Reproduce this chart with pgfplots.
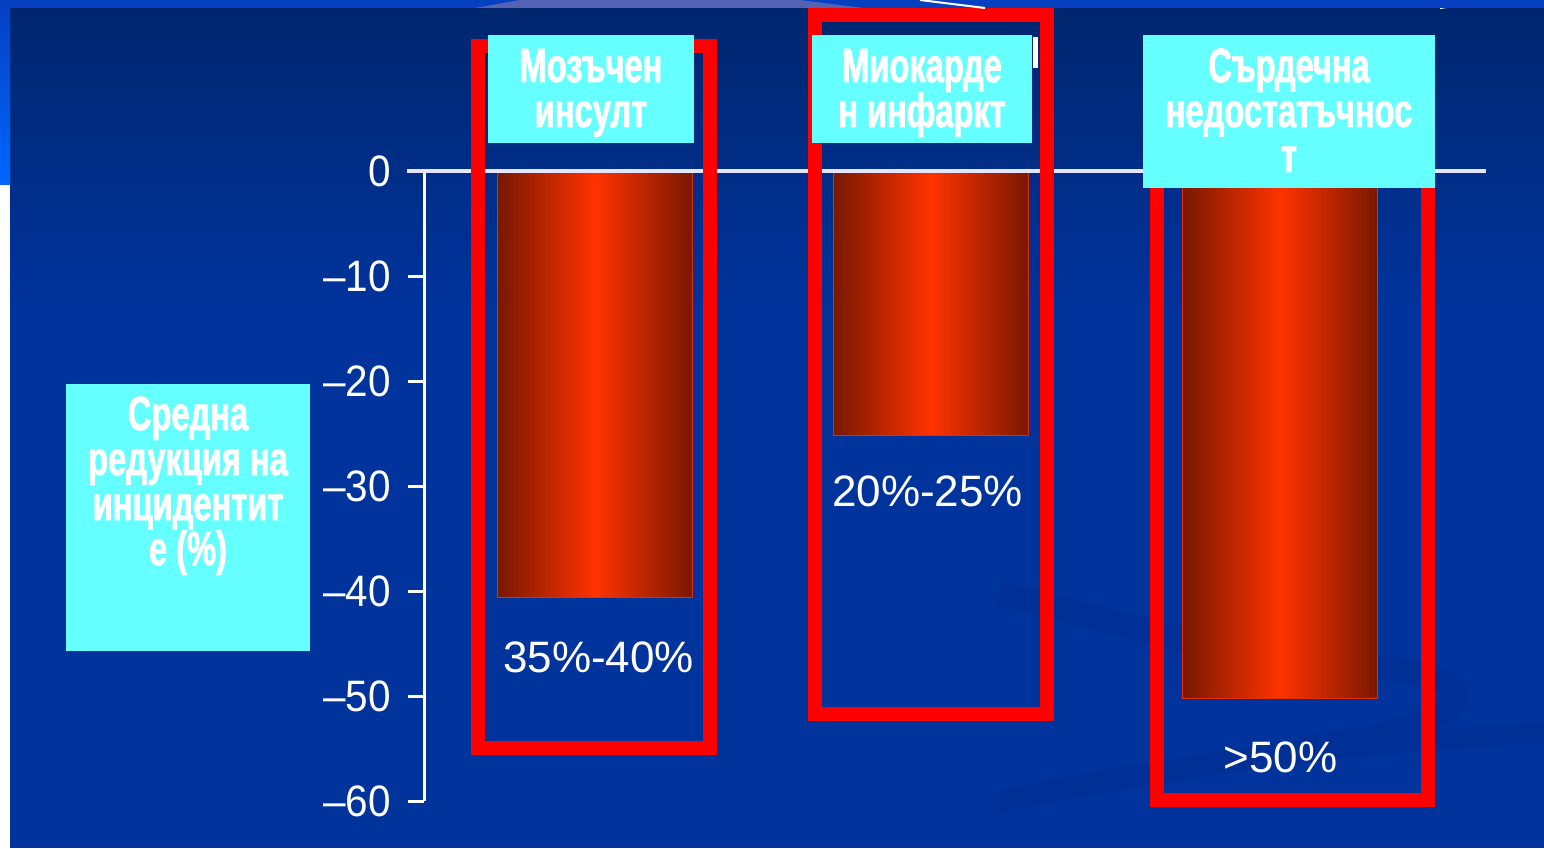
\documentclass[border=0pt]{standalone}
\usepackage{pgfplots}
\pgfplotsset{compat=1.18}
\usepackage{fontspec}
\setmainfont{Liberation Sans}
\newfontfamily\condfont[FakeStretch=0.68,FakeBold=1.5]{Liberation Sans Bold}
\newfontfamily\ticfont[FakeStretch=0.92]{Liberation Sans}
\definecolor{bgblue}{RGB}{0,51,156}
\definecolor{bgtop}{RGB}{0,38,110}
\definecolor{stripblue}{RGB}{5,64,192}
\definecolor{cyanbox}{RGB}{102,255,255}
\definecolor{bardark}{RGB}{120,24,0}
\definecolor{barbright}{RGB}{255,51,0}
\definecolor{boxred}{RGB}{255,0,0}
\definecolor{swirl}{RGB}{0,48,149}
\newcommand{\lab}[3]{\node[anchor=base,text=white,inner sep=0pt,font=\condfont\fontsize{24}{24}\selectfont] at (#1,#2) {#3};}
\begin{document}
\begin{tikzpicture}
\useasboundingbox (0,0) rectangle (772pt,424pt);
\begin{scope}[x=0.5pt,y=0.5pt]
\clip (0,0) rectangle (1544,848);
\fill[bgblue] (0,0) rectangle (1544,848);
\shade[top color=bgtop, bottom color=bgblue] (0,540) rectangle (1544,840);
\draw[swirl, line width=12] (1000,255) .. controls (1150,215) and (1250,190) .. (1380,180) .. controls (1500,170) and (1480,120) .. (1300,100);
\fill[swirl] (1000,58) .. controls (1200,100) and (1400,120) .. (1544,125) -- (1544,105) .. controls (1400,98) and (1200,78) .. (1000,35) -- cycle;
\fill[stripblue] (0,840) rectangle (1544,848);
\fill[blue!30!gray!90!white, opacity=0.8] (475,840) -- (863,840) -- (800,848) -- (520,848) -- cycle;
\draw[white, line width=1] (1440,840) -- (1490,848);
\shade[top color=stripblue, bottom color=blue!60!cyan] (0,663) rectangle (10,848);
\fill[white] (0,0) rectangle (10,663);
\end{scope}
\begin{axis}[
  at={(212pt,23.5pt)}, anchor=south west,
  scale only axis, width=530.9pt, height=315pt,
  xmin=0.5, xmax=3.6, ymin=-60, ymax=0,
  hide x axis, axis y line*=left,
  ytick={-60,-50,-40,-30,-20,-10,0},
  yticklabels={–60,–50,–40,–30,–20,–10,0},
  tick align=outside, major tick length=8pt,
  y axis line style={white, line width=1.5pt},
  ytick style={white, line width=1.5pt},
  yticklabel style={text=white, font=\ticfont\fontsize{22}{22}\selectfont, inner sep=0pt, xshift=-8.5pt},
  clip=false,
]
\pgfplotsset{mybar/.style={ybar, bar width=97.5pt, bar shift=0pt, draw={rgb,255:red,225;green,45;blue,10}, line width=0.6pt,
  left color=bardark, right color=bardark, middle color=barbright}}
\addplot[mybar] coordinates {(1,-40.6)};
\addplot[mybar] coordinates {(1.98,-25.2)};
\addplot[mybar] coordinates {(3,-50.2)};
\draw[white!90!blue, line width=2pt] (axis cs:0.45,0) -- (axis cs:3.6,0);
\node[text=white, font=\fontsize{22}{22}\selectfont] at (axis cs:1.01,-46.3) {35\%-40\%};
\node[text=white, font=\fontsize{22}{22}\selectfont] at (axis cs:1.97,-30.5) {20\%-25\%};
\node[text=white, font=\fontsize{22}{22}\selectfont] at (axis cs:3,-55.8) {>50\%};
\end{axis}
\begin{scope}[x=0.5pt,y=0.5pt]
\clip (0,0) rectangle (1544,848);
\draw[boxred, line width=7pt, line join=miter] (478,802) rectangle (710,100);
\draw[boxred, line width=7pt, line join=miter] (815,833) rectangle (1047,134);
\draw[boxred, line width=7pt, line join=miter] (1157,728) rectangle (1427.5,48);
\fill[stripblue] (0,840) rectangle (1544,848);
\fill[blue!30!gray!90!white, opacity=0.8] (475,840) -- (863,840) -- (800,848) -- (520,848) -- cycle;
\draw[white, line width=1] (920,848) -- (985,840);
\shade[top color=stripblue, bottom color=blue!60!cyan] (0,663) rectangle (10,848);
\fill[white] (1033,780) rectangle (1038,811);
\fill[cyanbox] (488,705) rectangle (694,813);
\fill[cyanbox] (812,705) rectangle (1032,813);
\fill[cyanbox] (1143,660) rectangle (1434.5,813);
\fill[cyanbox] (66,197) rectangle (310,464);
\lab{591}{766}{Мозъчен}
\lab{591}{721}{инсулт}
\lab{922}{766}{Миокарде}
\lab{922}{721}{н инфаркт}
\lab{1289}{766}{Сърдечна}
\lab{1289}{721}{недостатъчнос}
\lab{1289}{676}{т}
\lab{188}{418}{Средна}
\lab{188}{373}{редукция на}
\lab{188}{328}{инцидентит}
\lab{188}{283}{е (\%)}
\end{scope}
\end{tikzpicture}
\end{document}
